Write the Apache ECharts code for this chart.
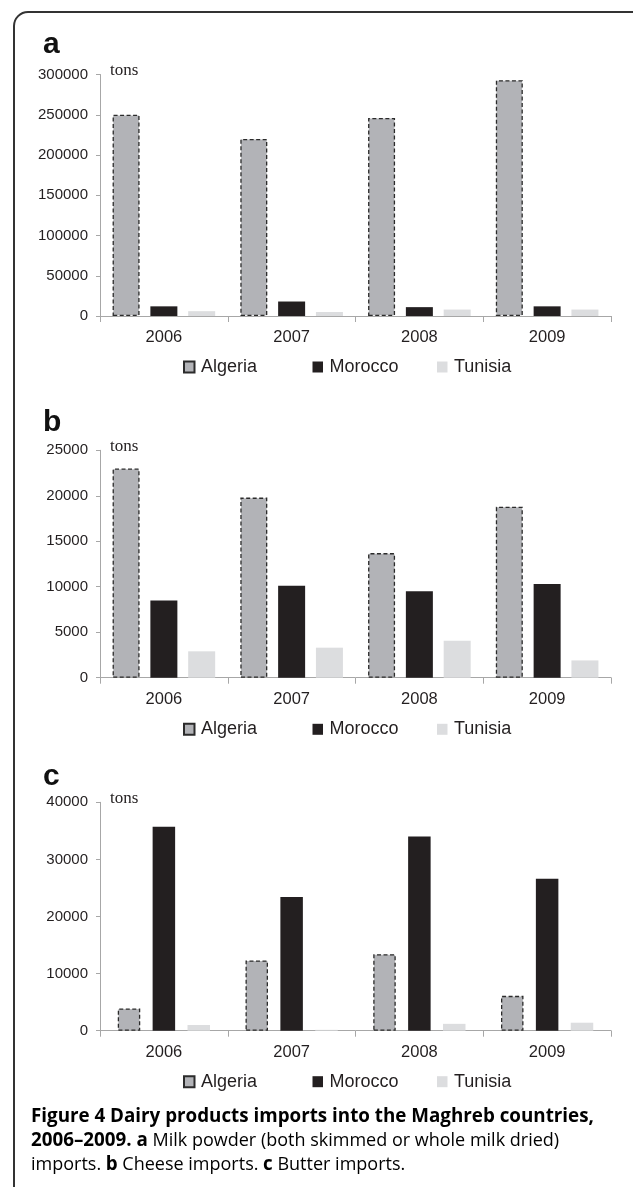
<!DOCTYPE html>
<html>
<head>
<meta charset="utf-8">
<script src="https://cdn.jsdelivr.net/npm/echarts@6/dist/echarts.min.js"></script>
<style>
  html, body { margin: 0; padding: 0; background: #fff; }
  #chart { width: 633px; height: 1187px; }
</style>
</head>
<body>
<div id="chart"></div>
<script>
// Dairy imports into the Maghreb, 2006-2009 (tons)
const years = ['2006', '2007', '2008', '2009'];
const countries = ['Algeria', 'Morocco', 'Tunisia'];

// a: milk powder
const milkAlgeria = [250000, 220000, 246000, 293000];
const milkMorocco = [12000, 18000, 11000, 12000];
const milkTunisia = [6000, 5000, 8000, 8000];

// b: cheese
const cheeseAlgeria = [23000, 19800, 13700, 18800];
const cheeseMorocco = [8500, 10100, 9500, 10300];
const cheeseTunisia = [2900, 3300, 4050, 1900];

// c: butter
const butterAlgeria = [3900, 12300, 13400, 6100];
const butterMorocco = [35700, 23400, 34000, 26600];
const butterTunisia = [1000, 150, 1200, 1400];

const colors = {
  algeria: '#b2b3b7',
  morocco: '#231f20',
  tunisia: '#dcdddf',
  axis: '#a7a7a7',
  text: '#231f20',
  caption: '#5d5e60'
};

const sans = 'Liberation Sans, Arial, sans-serif';

const panels = [
  { label: 'a', data: [milkAlgeria, milkMorocco, milkTunisia], max: 300000, step: 50000,
    top: 74.5, height: 241.5, legendTop: 358, barWidth: 27, barGap: '40%' },
  { label: 'b', data: [cheeseAlgeria, cheeseMorocco, cheeseTunisia], max: 25000, step: 5000,
    top: 450.3, height: 227.4, legendTop: 720.3, barWidth: 27, barGap: '40%' },
  { label: 'c', data: [butterAlgeria, butterMorocco, butterTunisia], max: 40000, step: 10000,
    top: 802.3, height: 228.4, legendTop: 1072.7, barWidth: 22.5, barGap: '55%' }
];

const styles = [
  { color: colors.algeria, borderColor: '#2b2b2b', borderWidth: 1.3, borderType: [4, 2.5] },
  { color: colors.morocco },
  { color: colors.tunisia }
];

const legendLeft = [183, 312.5, 437];

const grid = [], xAxis = [], yAxis = [], series = [], legend = [], graphic = [];

panels.forEach((p, i) => {
  grid.push({ left: 100, right: 22, top: p.top, height: p.height });
  xAxis.push({
    type: 'category', gridIndex: i, data: years,
    axisLine: { lineStyle: { color: colors.axis, width: 1 } },
    axisTick: { show: true, length: 6, lineStyle: { color: colors.axis } },
    axisLabel: { color: colors.text, fontSize: 16.5, fontFamily: sans, margin: 13 }
  });
  yAxis.push({
    type: 'value', gridIndex: i, min: 0, max: p.max, interval: p.step,
    axisLine: { show: true, lineStyle: { color: colors.axis, width: 1 } },
    axisTick: { show: true, length: 4, lineStyle: { color: colors.axis } },
    splitLine: { show: false },
    axisLabel: { color: colors.text, fontSize: 15, fontFamily: sans, margin: 12,
                 formatter: v => String(v) }
  });
  countries.forEach((name, k) => {
    series.push({
      name, type: 'bar', xAxisIndex: i, yAxisIndex: i,
      data: p.data[k], barWidth: p.barWidth, barGap: p.barGap,
      itemStyle: styles[k], silent: true
    });
    legend.push({
      data: [name], left: legendLeft[k], top: p.legendTop, padding: 0,
      icon: 'rect', itemWidth: 10.5, itemHeight: 11,
      textStyle: { color: colors.text, fontSize: 18, fontFamily: sans, padding: [0, 0, 0, 1.5] }
    });
  });
});

// panel letters and unit labels
const letterY = [44.6, 422.3, 776.9];
const tonsY = [71, 447, 799];
panels.forEach((p, i) => {
  graphic.push({
    type: 'text', left: 43, top: letterY[i] - 15,
    style: { text: p.label, fill: '#111', font: 'bold 30px ' + sans }
  });
  graphic.push({
    type: 'text', left: 110, top: tonsY[i] - 9,
    style: { text: 'tons', fill: colors.text, font: '17px Liberation Serif, Times New Roman, serif' }
  });
});

// frame (right and bottom edges run off the page)
graphic.push({
  type: 'rect', silent: true,
  shape: { x: 14, y: 12, width: 660, height: 1190, r: 14 },
  style: { fill: 'none', stroke: '#333', lineWidth: 2 }
});

// caption
const capFont = 'Open Sans, Noto Sans, sans-serif';
const rich = {
  b: { fontFamily: capFont, fontWeight: 'bold', fontSize: 18.8, color: colors.text },
  r: { fontFamily: capFont, fontSize: 18, color: colors.caption }
};
const captionLines = [
  '{b|Figure 4 Dairy products imports into the Maghreb countries,}',
  '{b|2006\u20132009. a}{r| Milk powder (both skimmed or whole milk dried)}',
  '{r|imports. }{b|b}{r| Cheese imports. }{b|c}{r| Butter imports.}'
];
const captionTop = [1107, 1131, 1155];
captionLines.forEach((t, i) => {
  graphic.push({ type: 'text', left: 31, top: captionTop[i], style: { text: t, rich } });
});

const chart = echarts.init(document.getElementById('chart'));
chart.setOption({
  animation: false,
  grid, xAxis, yAxis, series, legend, graphic
});
</script>
</body>
</html>
